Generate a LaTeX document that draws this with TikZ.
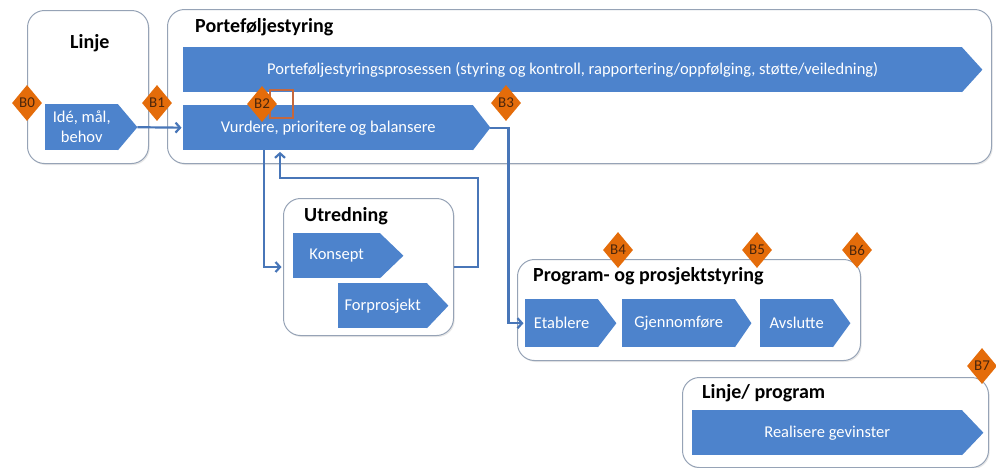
\documentclass[tikz,border=0pt]{standalone}
\usepackage{fontspec}
\setmainfont{Carlito}
\usetikzlibrary{shapes.geometric,arrows.meta,shadows}

\definecolor{procblue}{RGB}{77,131,204}
\definecolor{linkblue}{RGB}{72,118,184}
\definecolor{gateorange}{RGB}{228,108,10}
\definecolor{gatetext}{RGB}{75,38,12}
\definecolor{framegray}{RGB}{150,163,182}
\definecolor{markbrown}{RGB}{196,104,62}

\tikzset{
  area/.style={draw=framegray, line width=1pt, fill=white, rounded corners=17pt,
    inner sep=0pt, anchor=north west,
    drop shadow={shadow xshift=1.2pt, shadow yshift=-1.5pt, opacity=0.18}},
  areatitle/.style={anchor=west, inner sep=0pt, font=\fontsize{20}{24}\selectfont\bfseries},
  stagebox/.style={fill=procblue, inner sep=0pt, anchor=north west, text=white,
    align=center, font=\fontsize{16.5}{20}\selectfont},
  gate/.style={diamond, aspect=0.8, fill=gateorange, minimum width=30pt, minimum height=36pt,
    inner sep=0pt, text=gatetext, font=\fontsize{15}{16}\selectfont},
  link/.style={draw=linkblue, line width=2.2pt,
    -{Straight Barb[length=4.5pt,width=10pt]}, shorten >=1.5pt},
}

% \stage{name}{x}{y}{width}{height}{tip length}{text}
\newcommand\stage[7]{%
  \node[stagebox, minimum width=#4pt, minimum height=#5pt] (#1) at (#2,#3) {#7};
  \fill[procblue] ([xshift=-0.6pt]#1.north east) -- ([xshift=#6pt]#1.east)
    -- ([xshift=-0.6pt]#1.south east) -- cycle;
  \coordinate (#1-tip) at ([xshift=#6pt]#1.east);
}

\begin{document}
\begin{tikzpicture}[x=1pt,y=-1pt]
\useasboundingbox (0,0) rectangle (996,467);

% framed areas
\node[area, minimum width=121pt, minimum height=153pt] (linje) at (27,10) {};
\node[area, minimum width=824pt, minimum height=154pt] (port) at (167,9) {};
\node[area, minimum width=170pt, minimum height=137pt] (utr) at (283,198) {};
\node[area, minimum width=343pt, minimum height=101pt] (prog) at (517,259) {};
\node[area, minimum width=306pt, minimum height=90pt] (linprog) at (682,377) {};

% area titles
\node[areatitle] (t-linje) at (70,43) {Linje};
\node[areatitle] (t-port) at (195,27) {Porteføljestyring};
\node[areatitle] (t-utr) at (304,216) {Utredning};
\node[areatitle] (t-prog) at (533,276) {Program- og prosjektstyring};
\node[areatitle] (t-linprog) at (702,393) {Linje/ program};

% process stages
\stage{ide}{45}{104}{73}{46}{19}{Idé, mål,\\behov}
\stage{pp}{183}{47}{779}{45}{20}{Porteføljestyringsprosessen (styring og kontroll, rapportering/oppfølging, støtte/veiledning)}
\stage{vur}{183}{105}{290}{45}{17}{Vurdere, prioritere og balansere}
\stage{kon}{293}{233}{87}{45}{23}{Konsept}
\stage{forp}{338}{283}{89}{45}{21}{Forprosjekt}
\stage{etab}{525}{299}{73}{48}{18}{Etablere}
\stage{gjen}{622}{299}{113}{48}{16}{Gjennomføre}
\stage{avsl}{760}{299}{73}{48}{17}{Avslutte}
\stage{real}{692}{410}{270}{45}{21}{Realisere gevinster}

% flow between stages
\coordinate (ret) at (478,178);
\draw[link] (ide-tip) -- (vur.west);
\draw[link] ([xshift=81pt]vur.south west) |- (utr.west);
\draw[link] (utr.east) -| (ret) -| ([xshift=97pt]vur.south west);
\draw[link] (vur-tip) -- ++(18,0) |- (etab.west);

% marker square behind B2
\draw[markbrown, line width=1.4pt] (270,90) rectangle (293,118);

% decision gates
\node[gate] (b0) at (27,103) {B0};
\node[gate] (b1) at (157,103) {B1};
\node[gate] (b2) at (262,104) {B2};
\node[gate] (b3) at (506,103) {B3};
\node[gate] (b4) at (618,250) {B4};
\node[gate] (b5) at (757,250) {B5};
\node[gate] (b6) at (857,250) {B6};
\node[gate] (b7) at (982,366) {B7};
\end{tikzpicture}
\end{document}
